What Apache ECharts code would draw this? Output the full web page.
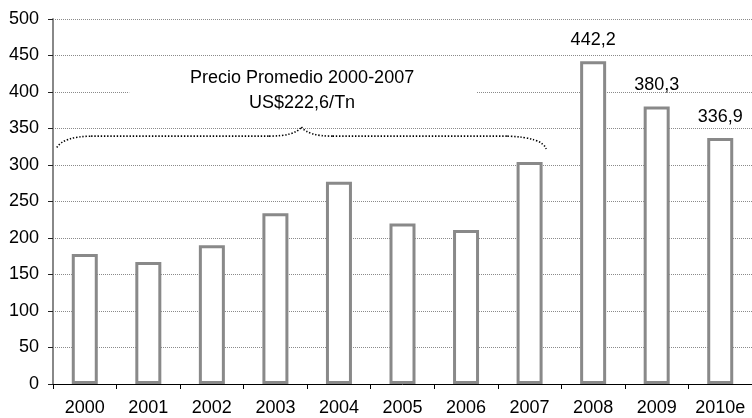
<!DOCTYPE html>
<html>
<head>
<meta charset="utf-8">
<script src="https://cdn.jsdelivr.net/npm/echarts@6/dist/echarts.min.js"></script>
<style>
html,body{margin:0;padding:0;background:#fff;}
#chart{width:752px;height:418px;}
</style>
</head>
<body>
<div id="chart"></div>
<script>
// ---- data ----
const categories = ['2000','2001','2002','2003','2004','2005','2006','2007','2008','2009','2010e'];
const prices = [178, 167, 190, 234, 277, 220, 211, 304, 442.2, 380.3, 336.9];
const labelledBars = [false, false, false, false, false, false, false, false, true, true, true];
const yMin = 0, yMax = 500, yInterval = 50;
const annotationText = ['Precio Promedio 2000-2007', 'US$222,6/Tn'];

const FONT = 'Liberation Sans, Arial, sans-serif';
const FS = 18;
const chart = echarts.init(document.getElementById('chart'));

function fmt(v){ return String(v.toFixed(1)).replace('.', ','); }

const option = {
  animation: false,
  backgroundColor: '#fff',
  textStyle: { fontFamily: FONT },
  grid: { left: 53, top: 19, bottom: 34, width: 702, containLabel: false },
  xAxis: {
    type: 'category',
    data: categories,
    boundaryGap: true,
    axisLine: { show: true, lineStyle: { color: '#000', width: 1 } },
    axisTick: { show: true, length: 5, lineStyle: { color: '#000' } },
    axisLabel: { color: '#000', fontSize: FS, fontFamily: FONT, margin: 15, interval: 0 },
    splitLine: { show: false }
  },
  yAxis: {
    type: 'value',
    min: yMin, max: yMax, interval: yInterval,
    axisLine: { show: true, lineStyle: { color: '#888', width: 2 } },
    axisTick: { show: true, length: 5, lineStyle: { color: '#222' } },
    axisLabel: { color: '#000', fontSize: FS, fontFamily: FONT, margin: 14 },
    splitLine: { show: true, lineStyle: { color: '#8a8a8a', width: 1, type: [1, 1] } }
  },
  series: [{
    type: 'bar',
    data: prices.map((v, i) => ({
      value: v,
      label: {
        show: labelledBars[i],
        position: 'top',
        distance: 12,
        formatter: p => fmt(p.value),
        color: '#000',
        fontSize: FS,
        fontFamily: FONT
      }
    })),
    barWidth: 26,
    itemStyle: { color: '#fff', borderColor: '#898989', borderWidth: 3 }
  }]
};
chart.setOption(option);

// ---- annotation (brace + text), positioned through the axes ----
const p0 = chart.convertToPixel({ gridIndex: 0 }, [0, 0]);
const p1 = chart.convertToPixel({ gridIndex: 0 }, [1, 0]);
const step = p1[0] - p0[0];
function P(idx, val) {
  const y = chart.convertToPixel({ yAxisIndex: 0 }, val);
  return [p0[0] + idx * step, y];
}
const a = P(-0.44, 324), c1 = P(-0.33, 339), b = P(0.1, 339.5);
const d = P(2.9, 339.5), c2 = P(3.3, 339.5), pk = P(3.41, 352);
const c3 = P(3.52, 339.5), e = P(3.9, 339.5);
const f = P(6.65, 339.5), c4 = P(7.2, 338), g = P(7.26, 322);

const dotStyle = { fill: null, stroke: '#000', lineWidth: 1.6, lineDash: [1.4, 1.8] };
function curve(s, cp, t) {
  return { type: 'bezierCurve', z: 51,
    shape: { x1: s[0], y1: s[1], cpx1: cp[0], cpy1: cp[1], x2: t[0], y2: t[1] },
    style: dotStyle };
}
function seg(s, t) {
  return { type: 'line', z: 51, shape: { x1: s[0], y1: s[1], x2: t[0], y2: t[1] }, style: dotStyle };
}

const boxTL = P(0.7, 442), boxBR = P(6.17, 354);
const t1 = P(3.42, 418.5), t2 = P(3.42, 385.5);

chart.setOption({
  graphic: [
    { type: 'rect', z: 50, shape: { x: boxTL[0], y: boxTL[1], width: boxBR[0] - boxTL[0], height: boxBR[1] - boxTL[1] },
      style: { fill: '#fff' } },
    curve(a, c1, b), seg(b, d), curve(d, c2, pk), curve(pk, c3, e), seg(e, f), curve(f, c4, g),
    { type: 'text', z: 52, style: { text: annotationText[0], x: t1[0], y: t1[1], align: 'center', verticalAlign: 'middle',
      font: FS + 'px ' + FONT, fill: '#000' } },
    { type: 'text', z: 52, style: { text: annotationText[1], x: t2[0], y: t2[1], align: 'center', verticalAlign: 'middle',
      font: FS + 'px ' + FONT, fill: '#000' } }
  ]
});
</script>
</body>
</html>
